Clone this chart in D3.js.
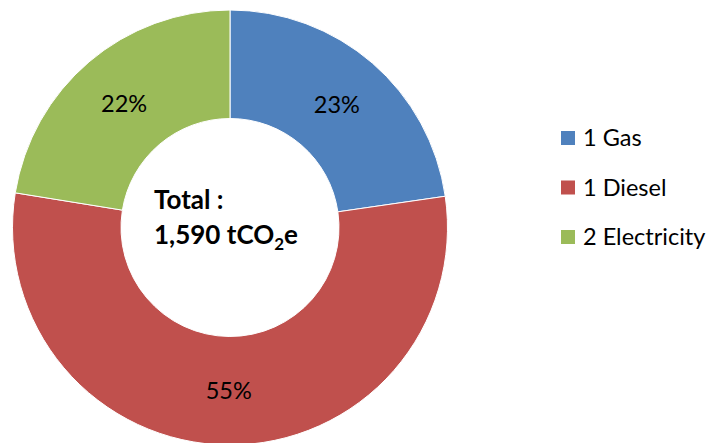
<!DOCTYPE html>
<html>
<head>
<meta charset="utf-8">
<script src="https://cdn.jsdelivr.net/npm/d3@7"></script>
<style>
  body { margin: 0; background: #fff; }
  svg { display: block; font-family: Lato, "Open Sans", sans-serif; }
</style>
</head>
<body>
<svg id="chart"></svg>
<script>
const categories = ["1 Gas", "1 Diesel", "2 Electricity"];
const values = [361, 872, 357]; // tCO2e, total 1,590
const pctLabels = ["23%", "55%", "22%"];
const colors = ["#4F81BD", "#C0504D", "#9BBB59"];

const svgW = 710,
  svgH = 443;
const cx = 230,
  cy = 227.5,
  outer = 217.5,
  inner = 109;

const svg = d3.select("#chart").attr("width", svgW).attr("height", svgH);

const data = categories.map((c, i) => ({ name: c, value: values[i], label: pctLabels[i] }));
const pie = d3.pie().sort(null).value((d) => d.value);
const arc = d3.arc().innerRadius(inner).outerRadius(outer);
const color = d3.scaleOrdinal().domain(categories).range(colors);

const g = svg.append("g").attr("transform", `translate(${cx},${cy})`);
const slices = g.selectAll("g.slice").data(pie(data)).join("g").attr("class", "slice");

slices
  .append("path")
  .attr("d", arc)
  .attr("fill", (d) => color(d.data.name))
  .attr("stroke", "#fff")
  .attr("stroke-width", 1);

slices
  .append("text")
  .attr("transform", (d) => `translate(${arc.centroid(d)})`)
  .attr("text-anchor", "middle")
  .attr("dy", "0.36em")
  .attr("font-size", 23.5)
  .attr("fill", "#000")
  .text((d) => d.data.label);

// centre label
const total = d3.sum(values);
const centre = svg.append("g").attr("font-weight", "bold").attr("font-size", 26).attr("fill", "#000");
centre.append("text").attr("x", 154).attr("y", 209).text("Total :");
const line2 = centre.append("text").attr("x", 154).attr("y", 244);
line2.append("tspan").text(d3.format(",")(total) + " tCO");
line2.append("tspan").attr("font-size", 17).attr("dy", 6).text("2");
line2.append("tspan").attr("dy", -6).text("e");

// legend
const legend = svg
  .append("g")
  .selectAll("g")
  .data(categories)
  .join("g")
  .attr("transform", (d, i) => `translate(561, ${138 + i * 49.5})`);

legend
  .append("rect")
  .attr("y", -7)
  .attr("width", 14)
  .attr("height", 14)
  .attr("fill", (d) => color(d));

legend
  .append("text")
  .attr("x", 22)
  .attr("dy", "0.36em")
  .attr("font-size", 23.5)
  .attr("fill", "#000")
  .text((d) => d);
</script>
</body>
</html>
